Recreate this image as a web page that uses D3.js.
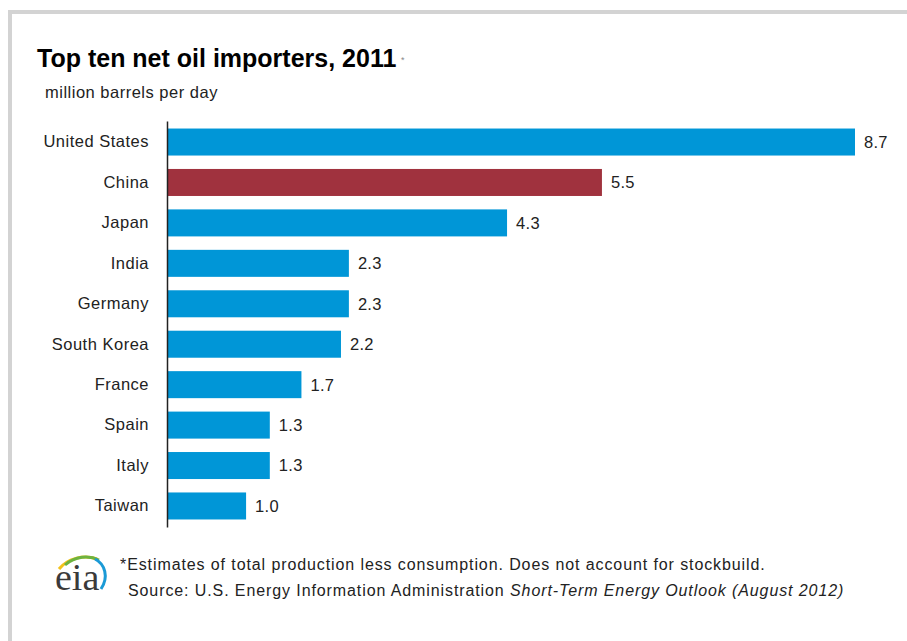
<!DOCTYPE html>
<html>
<head>
<meta charset="utf-8">
<script src="https://d3js.org/d3.v7.min.js"></script>
<style>
  body { margin: 0; background: #fff; }
  svg { display: block; font-family: "Liberation Sans", Arial, sans-serif; }
</style>
</head>
<body>
<div id="chart"></div>
<script>
////////////////////////////////////////////////////////////////////////////
//////////////////////////////   data   ////////////////////////////////////
var countries = ["United States", "China", "Japan", "India", "Germany",
                 "South Korea", "France", "Spain", "Italy", "Taiwan"];
var imports = [8.7, 5.5, 4.3, 2.3, 2.3, 2.2, 1.7, 1.3, 1.3, 1.0];
var highlight = ["China"];

var W = 907, H = 641;

var svg = d3.select("#chart")
  .append("svg")
  .attr("width", W)
  .attr("height", H);

// gray frame (only top + left edges show inside the picture)
svg.append("rect")
  .attr("x", 10).attr("y", 12)
  .attr("width", 1000).attr("height", 1000)
  .attr("fill", "none")
  .attr("stroke", "#d3d3d3")
  .attr("stroke-width", 4);

//////////////////////////////  titles  ////////////////////////////////////
svg.append("text")
  .attr("x", 37).attr("y", 67)
  .attr("font-size", "25px")
  .attr("font-weight", "bold")
  .attr("fill", "#000")
  .text("Top ten net oil importers, 2011");

svg.append("text")
  .attr("x", 401).attr("y", 63)
  .attr("font-size", "9px")
  .attr("fill", "#888")
  .text("*");

svg.append("text")
  .attr("x", 45).attr("y", 98)
  .attr("font-size", "16.5px")
  .attr("letter-spacing", "0.5px")
  .attr("fill", "#222")
  .text("million barrels per day");

//////////////////////////////  scales  ////////////////////////////////////
var x = d3.scaleLinear()
  .domain([0, 8.7])
  .range([167, 855]);

var y = d3.scaleBand()
  .domain(countries)
  .range([121, 527])
  .paddingInner(0.332)
  .paddingOuter(0.186);

var rows = countries.map(function(c, i) { return {name: c, value: imports[i]}; });

//////////////////////////////  bars  //////////////////////////////////////
svg.selectAll(".bar")
  .data(rows)
  .enter()
  .append("rect")
  .attr("class", "bar")
  .attr("x", x(0))
  .attr("y", function(d) { return y(d.name); })
  .attr("width", function(d) { return x(d.value) - x(0); })
  .attr("height", y.bandwidth())
  .attr("fill", function(d) { return highlight.indexOf(d.name) >= 0 ? "#a0323e" : "#0096d7"; });

svg.selectAll(".val")
  .data(rows)
  .enter()
  .append("text")
  .attr("class", "val")
  .attr("x", function(d) { return x(d.value) + 9; })
  .attr("y", function(d) { return y(d.name) + y.bandwidth() / 2; })
  .attr("dy", "0.36em")
  .attr("font-size", "16.5px")
  .attr("letter-spacing", "0.3px")
  .attr("fill", "#222")
  .text(function(d) { return d3.format(".1f")(d.value); });

// category axis
var yAxis = svg.append("g")
  .attr("transform", "translate(" + x(0) + ",0)")
  .call(d3.axisLeft(y).tickSize(0).tickPadding(18));

yAxis.select(".domain")
  .attr("stroke", "#222")
  .attr("stroke-width", 1.5);

yAxis.selectAll("text")
  .attr("font-size", "16.5px")
  .attr("letter-spacing", "0.5px")
  .attr("font-family", "'Liberation Sans', Arial, sans-serif")
  .attr("fill", "#222");

//////////////////////////////  footer  ////////////////////////////////////
var logo = svg.append("g").attr("transform", "translate(55,551)");
logo.append("path")
  .attr("d", "M4,18 C12,8 28,3 42,8")
  .attr("fill", "none").attr("stroke", "#f2c21b").attr("stroke-width", 3);
logo.append("path")
  .attr("d", "M10,14 C20,5 34,4 44,9")
  .attr("fill", "none").attr("stroke", "#6db33f").attr("stroke-width", 3);
logo.append("path")
  .attr("d", "M40,8 C50,13 54,26 46,38")
  .attr("fill", "none").attr("stroke", "#1b9ad6").attr("stroke-width", 3);
logo.append("text")
  .attr("x", 0).attr("y", 39)
  .attr("font-family", "'Liberation Serif', 'DejaVu Serif', serif")
  .attr("font-size", "38px")
  .attr("fill", "#3a3a3a")
  .text("eia");

svg.append("text")
  .attr("x", 120).attr("y", 570)
  .attr("font-size", "16px")
  .attr("letter-spacing", "0.9px")
  .attr("fill", "#222")
  .text("*Estimates of total production less consumption. Does not account for stockbuild.");

var src = svg.append("text")
  .attr("x", 128).attr("y", 596)
  .attr("font-size", "16px")
  .attr("letter-spacing", "0.9px")
  .attr("fill", "#222");
src.append("tspan").text("Source: U.S. Energy Information Administration ");
src.append("tspan").attr("font-style", "italic").text("Short-Term Energy Outlook");
src.append("tspan").attr("font-style", "italic").text(" (August 2012)");
</script>
</body>
</html>
